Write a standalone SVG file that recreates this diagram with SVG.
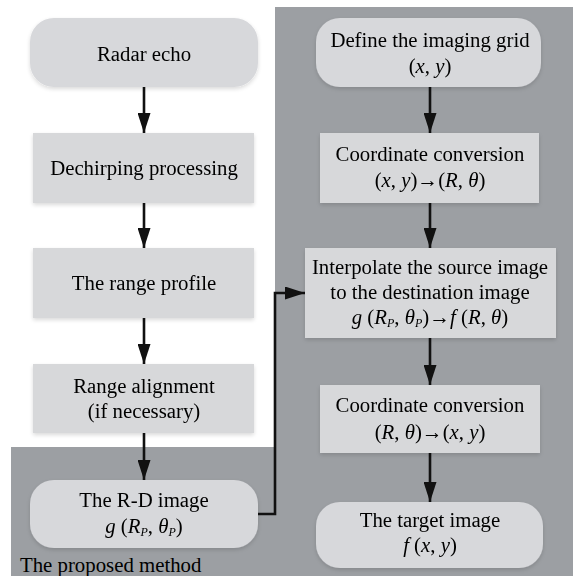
<svg xmlns="http://www.w3.org/2000/svg" width="573" height="576" viewBox="0 0 573 576">
<style>
text{font-family:"Liberation Serif","Times New Roman",serif;font-size:20.8px;fill:#000;text-anchor:middle}
.i{font-style:italic}
.s{font-size:12px;font-style:italic}
.box{fill:#d7d8da}
.rbox{fill:#d7d8db}
.panel{fill:#9c9fa3}
.conn{stroke:#111;stroke-width:2.6;fill:none}
.lbl{text-anchor:start}
</style>
<defs>
<marker id="ah" markerUnits="userSpaceOnUse" markerWidth="20" markerHeight="13" refX="20" refY="6.5" viewBox="0 0 20 13" orient="auto">
<path d="M0,0 L20,6.5 L0,13 Z" fill="#111"/>
</marker>
<filter id="sh" x="-5%" y="-10%" width="110%" height="130%">
<feGaussianBlur in="SourceAlpha" stdDeviation="2"/>
<feOffset dy="2"/>
<feComponentTransfer><feFuncA type="linear" slope="0.15"/></feComponentTransfer>
<feMerge><feMergeNode/><feMergeNode in="SourceGraphic"/></feMerge>
</filter>
</defs>
<rect width="573" height="576" fill="#ffffff"/>
<g id="panel">
<rect class="panel" x="275" y="7" width="298" height="569"/>
<rect class="panel" x="11" y="447" width="265" height="129"/>
<text class="lbl" x="20" y="572">The proposed method</text>
</g>
<g id="connectors">
<line class="conn" x1="144" y1="87" x2="144" y2="133" marker-end="url(#ah)"/>
<line class="conn" x1="144" y1="203" x2="144" y2="248" marker-end="url(#ah)"/>
<line class="conn" x1="144" y1="318" x2="144" y2="364" marker-end="url(#ah)"/>
<line class="conn" x1="144" y1="433" x2="144" y2="480" marker-end="url(#ah)"/>
<line class="conn" x1="430" y1="87" x2="430" y2="133" marker-end="url(#ah)"/>
<line class="conn" x1="430" y1="203" x2="430" y2="248" marker-end="url(#ah)"/>
<line class="conn" x1="430" y1="338" x2="430" y2="385" marker-end="url(#ah)"/>
<line class="conn" x1="430" y1="453" x2="430" y2="502" marker-end="url(#ah)"/>
<polyline class="conn" points="258,514 275,514 275,293 305,293" marker-end="url(#ah)"/>
</g>
<g id="radar-echo" filter="url(#sh)">
<rect class="rbox" x="30" y="18" width="228" height="69" rx="24"/>
<text x="144" y="61">Radar echo</text>
</g>
<g id="dechirping" filter="url(#sh)">
<rect class="box" x="33" y="133" width="221" height="70"/>
<text x="144" y="175">Dechirping processing</text>
</g>
<g id="range-profile" filter="url(#sh)">
<rect class="box" x="33" y="248" width="221" height="70"/>
<text x="144" y="290">The range profile</text>
</g>
<g id="range-alignment" filter="url(#sh)">
<rect class="box" x="33" y="364" width="221" height="69"/>
<text x="144" y="393">Range alignment</text>
<text x="144" y="418">(if necessary)</text>
</g>
<g id="rd-image" filter="url(#sh)">
<rect class="rbox" x="30" y="480" width="228" height="68" rx="24"/>
<text x="144" y="507">The R-D image</text>
<text x="144" y="533"><tspan class="i">g</tspan> (<tspan class="i">R</tspan><tspan class="s" dy="3">P</tspan><tspan dy="-3">, </tspan><tspan class="i">θ</tspan><tspan class="s" dy="3">P</tspan><tspan dy="-3">)</tspan></text>
</g>
<g id="imaging-grid" filter="url(#sh)">
<rect class="rbox" x="316" y="18" width="225" height="69" rx="24"/>
<text x="430" y="47">Define the imaging grid</text>
<text x="430" y="73">(<tspan class="i">x</tspan>, <tspan class="i">y</tspan>)</text>
</g>
<g id="coord-conv-1" filter="url(#sh)">
<rect class="box" x="320" y="133" width="219" height="70"/>
<text x="430" y="161">Coordinate conversion</text>
<text x="430" y="187">(<tspan class="i">x</tspan>, <tspan class="i">y</tspan>)→(<tspan class="i">R</tspan>, <tspan class="i">θ</tspan>)</text>
</g>
<g id="interpolate" filter="url(#sh)">
<rect class="box" x="305" y="248" width="251" height="90"/>
<text x="430" y="274">Interpolate the source image</text>
<text x="430" y="299">to the destination image</text>
<text x="430" y="324"><tspan class="i">g</tspan> (<tspan class="i">R</tspan><tspan class="s" dy="3">P</tspan><tspan dy="-3">, </tspan><tspan class="i">θ</tspan><tspan class="s" dy="3">P</tspan><tspan dy="-3">)→</tspan><tspan class="i">f</tspan> (<tspan class="i">R</tspan>, <tspan class="i">θ</tspan>)</text>
</g>
<g id="coord-conv-2" filter="url(#sh)">
<rect class="box" x="320" y="385" width="220" height="68"/>
<text x="430" y="412">Coordinate conversion</text>
<text x="430" y="439">(<tspan class="i">R</tspan>, <tspan class="i">θ</tspan>)→(<tspan class="i">x</tspan>, <tspan class="i">y</tspan>)</text>
</g>
<g id="target-image" filter="url(#sh)">
<rect class="rbox" x="316" y="502" width="227" height="66" rx="24"/>
<text x="430" y="527">The target image</text>
<text x="430" y="552"><tspan class="i">f</tspan> (<tspan class="i">x</tspan>, <tspan class="i">y</tspan>)</text>
</g>
</svg>
